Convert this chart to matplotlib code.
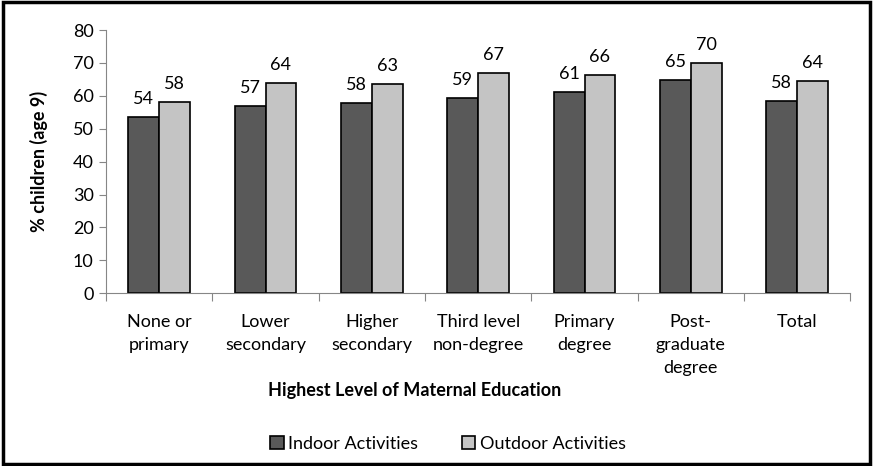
import numpy as np
import matplotlib.pyplot as plt
from matplotlib.patches import Rectangle

# ================= DATA =================
categories = ["None or\nprimary", "Lower\nsecondary", "Higher\nsecondary",
              "Third level\nnon-degree", "Primary\ndegree", "Post-\ngraduate\ndegree",
              "Total"]
indoor = [53.6, 57.0, 57.8, 59.3, 61.3, 64.7, 58.4]
outdoor = [58.1, 63.8, 63.5, 66.9, 66.4, 70.1, 64.4]
indoor_labels = [54, 57, 58, 59, 61, 65, 58]
outdoor_labels = [58, 64, 63, 67, 66, 70, 64]

DARK = "#595959"
LIGHT = "#c4c4c4"
AXIS = "#868686"
FS = 13

plt.rcParams["font.family"] = ["Lato", "DejaVu Sans"]

fig = plt.figure(figsize=(8.73, 4.66), dpi=100)
ax = fig.add_axes([0.1215, 0.3706, 0.8525, 0.565])

x = np.arange(len(categories))
w = 0.29
b1 = ax.bar(x - w / 2, indoor, w, color=DARK, edgecolor="black", linewidth=1.2,
            label="Indoor Activities")
b2 = ax.bar(x + w / 2, outdoor, w, color=LIGHT, edgecolor="black", linewidth=1.2,
            label="Outdoor Activities")

# value labels above bars
for rect, lab in zip(b1, indoor_labels):
    ax.text(rect.get_x() + rect.get_width() / 2, rect.get_height() + 3.0, str(lab),
            ha="center", va="bottom", fontsize=FS)
for rect, lab in zip(b2, outdoor_labels):
    ax.text(rect.get_x() + rect.get_width() / 2, rect.get_height() + 3.0, str(lab),
            ha="center", va="bottom", fontsize=FS)

ax.set_xlim(-0.5, len(categories) - 0.5)
ax.set_ylim(0, 80)
ax.set_yticks(range(0, 81, 10))
ax.tick_params(axis="y", labelsize=FS, direction="out", length=5, color=AXIS, pad=4)

# category ticks at boundaries, labels centred
ax.set_xticks(np.arange(-0.5, len(categories), 1.0))
ax.set_xticklabels([])
ax.set_xticks(x, minor=True)
ax.set_xticklabels(categories, minor=True, fontsize=FS, linespacing=1.55, va="top")
ax.tick_params(axis="x", which="major", direction="out", length=6, color=AXIS)
ax.tick_params(axis="x", which="minor", length=0, pad=15)

for s in ["top", "right"]:
    ax.spines[s].set_visible(False)
ax.spines["left"].set_color(AXIS)
ax.spines["bottom"].set_color(AXIS)

ax.set_ylabel("% children (age 9)", fontsize=FS, fontweight="bold", labelpad=18)
fig.text(0.475, 0.163, "Highest Level of Maternal Education", ha="center", va="center",
         fontsize=FS, fontweight="bold")

leg = fig.legend(handles=[b1, b2], loc="center", bbox_to_anchor=(0.513, 0.047), ncol=2,
                 frameon=False, fontsize=FS, handlelength=0.75, handleheight=0.75,
                 handletextpad=0.25, columnspacing=2.4)

# border around figure
fig.patches.append(Rectangle((0.003, 0.004), 0.994, 0.992, transform=fig.transFigure,
                             fill=False, edgecolor="black", linewidth=2.5))

plt.savefig("out.png", dpi=100)
plt.close()
